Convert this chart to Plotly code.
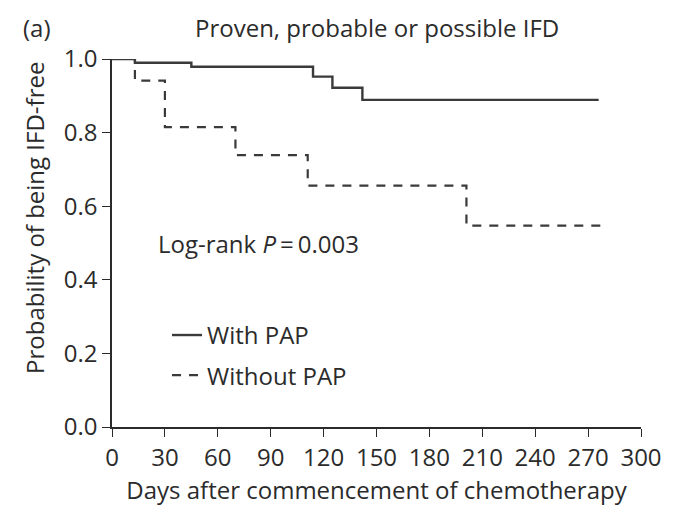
import plotly.graph_objects as go

# Kaplan-Meier estimates (days, survival probability)
pap_days = [0, 13, 45, 114, 125, 142, 276]
pap_surv = [1.0, 0.99, 0.979, 0.952, 0.922, 0.889, 0.889]

nopap_days = [0, 13, 30, 70, 111, 201, 281]
nopap_surv = [1.0, 0.941, 0.815, 0.739, 0.656, 0.547, 0.547]

x_ticks = list(range(0, 301, 30))
y_ticks = [0.0, 0.2, 0.4, 0.6, 0.8, 1.0]

FONT = "Open Sans"
INK = "#2b2b2b"
SIZE = 24

fig = go.Figure()
fig.add_trace(go.Scatter(
    x=pap_days, y=pap_surv, mode="lines", line_shape="hv",
    name="With PAP", legendgroup="a",
    line=dict(color="#3a3a3a", width=2.4),
    cliponaxis=False,
))
fig.add_trace(go.Scatter(
    x=nopap_days, y=nopap_surv, mode="lines", line_shape="hv",
    name="Without PAP", legendgroup="b",
    line=dict(color="#3a3a3a", width=2.2, dash="9px,8px"),
    cliponaxis=False,
))

axis_common = dict(
    showline=True, linecolor=INK, linewidth=1.5,
    ticks="outside", ticklen=8, tickwidth=1.3, tickcolor=INK,
    showgrid=False, zeroline=False,
    tickfont=dict(family=FONT, size=SIZE, color=INK),
)

fig.update_xaxes(
    range=[0, 300], tickvals=x_ticks,
    title=dict(text="Days after commencement of chemotherapy",
               font=dict(family=FONT, size=SIZE, color=INK), standoff=8),
    **axis_common,
)
fig.update_yaxes(
    range=[0, 1], tickvals=y_ticks, tickformat=".1f",
    **axis_common,
)

# y-axis title, placed by hand so it sits a little above the axis centre
fig.add_annotation(
    x=0, y=0.568, xref="paper", yref="paper",
    text="Probability of being IFD-free", showarrow=False, textangle=-90,
    xanchor="center", yanchor="middle", xshift=-77,
    font=dict(family=FONT, size=SIZE, color=INK),
)
fig.add_annotation(
    x=0.5, y=1.0, xref="paper", yref="paper",
    text="Proven, probable or possible IFD", showarrow=False,
    xanchor="center", yanchor="middle", yshift=32,
    font=dict(family=FONT, size=SIZE, color=INK),
)
fig.add_annotation(
    x=0, y=1.0, xref="paper", yref="paper",
    text="(a)", showarrow=False,
    xanchor="left", yanchor="middle", yshift=32, xshift=-91,
    font=dict(family=FONT, size=SIZE, color=INK),
)
fig.add_annotation(
    x=25, y=0.5, xref="x", yref="y",
    text="Log-rank <i>P</i>\u2009=\u20090.003", showarrow=False,
    xanchor="left", yanchor="middle",
    font=dict(family=FONT, size=SIZE, color=INK),
)

fig.update_layout(
    width=678, height=512,
    margin=dict(l=112, r=37, t=59, b=85),
    paper_bgcolor="white", plot_bgcolor="white",
    showlegend=True,
    legend=dict(
        x=0.104, y=0.31, xanchor="left", yanchor="top",
        font=dict(family=FONT, size=SIZE, color=INK),
        bgcolor="rgba(0,0,0,0)", tracegroupgap=6,
    ),
)

fig.write_html("out.html")
